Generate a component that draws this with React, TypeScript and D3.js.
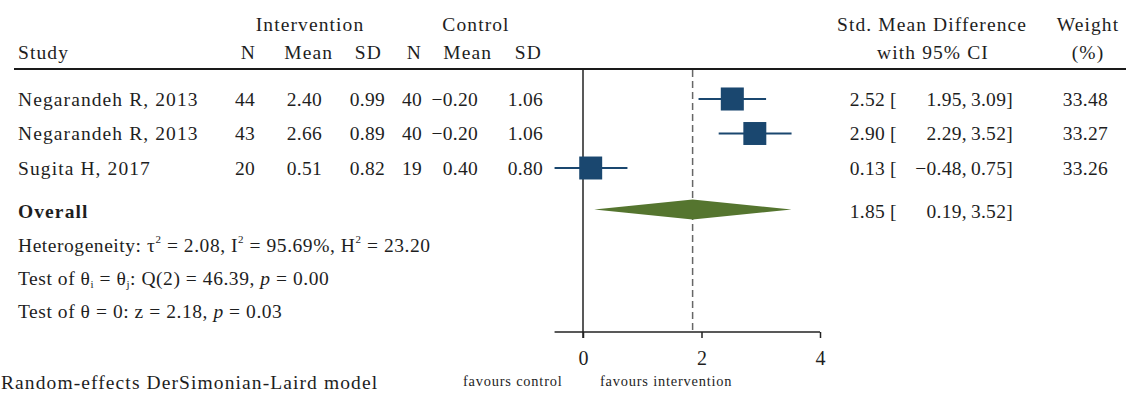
import React, { useEffect, useRef } from "react";
import * as d3 from "d3";

const studies = ["Negarandeh R, 2013", "Negarandeh R, 2013", "Sugita H, 2017"];
const intN = [44, 43, 20];
const intMean = [2.4, 2.66, 0.51];
const intSD = [0.99, 0.89, 0.82];
const ctlN = [40, 40, 19];
const ctlMean = [-0.2, -0.2, 0.4];
const ctlSD = [1.06, 1.06, 0.8];
const smd = [2.52, 2.9, 0.13];
const ciLow = [1.95, 2.29, -0.48];
const ciHigh = [3.09, 3.52, 0.75];
const weights = [33.48, 33.27, 33.26];
const overall = [1.85, 0.19, 3.52]; // estimate, low, high
const xTicks = [0, 2, 4];

const W = 1126;
const H = 394;
const FONT = "Liberation Serif";
const FS = 19.5;
const LS_TEXT = 1.1;
const LS_STATS = 0.55;
const LS_NUM = 0.3;
const TXT = "#1e1e1e";
const NAVY = "#1a476f";
const GREEN = "#55752f";

const f2 = d3.format(".2f");

export default function App() {
  const axisRef = useRef<SVGGElement>(null);

  const x = d3.scaleLinear().domain([0, 4]).range([583, 820]);
  const rowY = d3.scaleLinear().domain([0, 1]).range([99, 133.5]);
  const boxSide = d3.scaleSqrt().domain([0, 33.4]).range([0, 23]);
  const axisY = 332;
  const ruleY = 69;
  const overallY = 209.5;
  const xMin = d3.min(ciLow) as number;

  useEffect(() => {
    if (!axisRef.current) return;
    const g = d3.select(axisRef.current);
    g.selectAll("*").remove();
    const axis = d3
      .axisBottom(x)
      .tickValues(xTicks)
      .tickSize(6)
      .tickSizeOuter(0)
      .tickPadding(13)
      .tickFormat(d3.format("d") as any);
    g.call(axis as any);
    g.select(".domain").remove();
    g.selectAll(".tick line").attr("stroke", "#222").attr("stroke-width", 1.5);
    g.selectAll(".tick text")
      .attr("fill", TXT)
      .attr("font-family", FONT)
      .attr("font-size", 20);
  }, []);

  const textProps = { fontFamily: FONT, fontSize: FS, fill: TXT, letterSpacing: LS_TEXT };
  const statsProps = { fontFamily: FONT, fontSize: FS, fill: TXT, letterSpacing: LS_STATS };
  const numProps = { fontFamily: FONT, fontSize: FS, fill: TXT, letterSpacing: LS_NUM };
  const base = (i: number) => rowY(i) + 6.5;

  return (
    <svg
      width={W}
      height={H}
      style={{ position: "absolute", left: 0, top: 0, background: "#fff" }}
    >
      {/* headers */}
      <g {...textProps}>
        <text x={310} y={31} textAnchor="middle">Intervention</text>
        <text x={476} y={31} textAnchor="middle">Control</text>
        <text x={932} y={31} textAnchor="middle">Std. Mean Difference</text>
        <text x={1088} y={31} textAnchor="middle">Weight</text>
        <text x={18} y={59}>Study</text>
        <text x={256} y={59} textAnchor="end">N</text>
        <text x={333} y={59} textAnchor="end">Mean</text>
        <text x={382} y={59} textAnchor="end">SD</text>
        <text x={422} y={59} textAnchor="end">N</text>
        <text x={492} y={59} textAnchor="end">Mean</text>
        <text x={542} y={59} textAnchor="end">SD</text>
        <text x={933} y={59} textAnchor="middle">with 95% CI</text>
        <text x={1088} y={59} textAnchor="middle">(%)</text>
      </g>
      <line x1={14} x2={W} y1={ruleY} y2={ruleY} stroke="#1a1a1a" strokeWidth={2} />

      {/* reference lines */}
      <line x1={x(0)} x2={x(0)} y1={ruleY + 1} y2={axisY + 6} stroke="#222" strokeWidth={1.5} />
      <line
        x1={x(overall[0])}
        x2={x(overall[0])}
        y1={ruleY + 1}
        y2={axisY}
        stroke="#666"
        strokeWidth={1.5}
        strokeDasharray="7,4"
      />

      {/* study rows */}
      {studies.map((s, i) => {
        const b = base(i);
        const side = boxSide(weights[i]);
        return (
          <g key={i}>
            <text x={18} y={b} {...textProps}>{s}</text>
            <g {...numProps}>
              <text x={255} y={b} textAnchor="end">{intN[i]}</text>
              <text x={322} y={b} textAnchor="end">{f2(intMean[i])}</text>
              <text x={385} y={b} textAnchor="end">{f2(intSD[i])}</text>
              <text x={422} y={b} textAnchor="end">{ctlN[i]}</text>
              <text x={478} y={b} textAnchor="end">{f2(ctlMean[i])}</text>
              <text x={543} y={b} textAnchor="end">{f2(ctlSD[i])}</text>
              <text x={885} y={b} textAnchor="end">{f2(smd[i])}</text>
              <text x={890} y={b}>[</text>
              <text x={967} y={b} textAnchor="end">{f2(ciLow[i])},</text>
              <text x={1013} y={b} textAnchor="end">{f2(ciHigh[i])}]</text>
              <text x={1108} y={b} textAnchor="end">{f2(weights[i])}</text>
            </g>
            <line
              x1={x(ciLow[i])}
              x2={x(ciHigh[i])}
              y1={rowY(i)}
              y2={rowY(i)}
              stroke={NAVY}
              strokeWidth={2}
            />
            <rect
              x={x(smd[i]) - side / 2}
              y={rowY(i) - side / 2}
              width={side}
              height={side}
              fill={NAVY}
            />
          </g>
        );
      })}

      {/* overall */}
      <path
        d={`M${x(overall[1])},${overallY} L${x(overall[0])},${overallY - 10} L${x(overall[2])},${overallY} L${x(overall[0])},${overallY + 10} Z`}
        fill={GREEN}
      />
      <text x={18} y={218} fontWeight="bold" {...textProps}>Overall</text>
      <g {...numProps}>
        <text x={885} y={218} textAnchor="end">{f2(overall[0])}</text>
        <text x={890} y={218}>[</text>
        <text x={967} y={218} textAnchor="end">{f2(overall[1])},</text>
        <text x={1013} y={218} textAnchor="end">{f2(overall[2])}]</text>
      </g>
      <g {...statsProps}>
        <text x={18} y={252}>
          <tspan>Heterogeneity: τ</tspan>
          <tspan fontSize={11} dy={-9}>2</tspan>
          <tspan dy={9}> = 2.08, I</tspan>
          <tspan fontSize={11} dy={-9}>2</tspan>
          <tspan dy={9}> = 95.69%, H</tspan>
          <tspan fontSize={11} dy={-9}>2</tspan>
          <tspan dy={9}> = 23.20</tspan>
        </text>
        <text x={18} y={285}>
          <tspan>Test of θ</tspan>
          <tspan fontSize={11} dy={3}>i</tspan>
          <tspan dy={-3}> = θ</tspan>
          <tspan fontSize={11} dy={3}>j</tspan>
          <tspan dy={-3}>: Q(2) = 46.39, </tspan>
          <tspan fontStyle="italic">p</tspan>
          <tspan> = 0.00</tspan>
        </text>
        <text x={18} y={318}>
          <tspan>Test of θ = 0: z = 2.18, </tspan>
          <tspan fontStyle="italic">p</tspan>
          <tspan> = 0.03</tspan>
        </text>
      </g>
      <text x={1} y={389} {...textProps}>Random-effects DerSimonian-Laird model</text>

      {/* axis */}
      <line x1={x(xMin)} x2={x(4)} y1={axisY} y2={axisY} stroke="#222" strokeWidth={1.5} />
      <g ref={axisRef} transform={`translate(0,${axisY})`} />
      <g fontFamily={FONT} fontSize={14.4} fill={TXT} letterSpacing={0.8}>
        <text x={463} y={386}>favours control</text>
        <text x={600} y={386}>favours intervention</text>
      </g>
    </svg>
  );
}
